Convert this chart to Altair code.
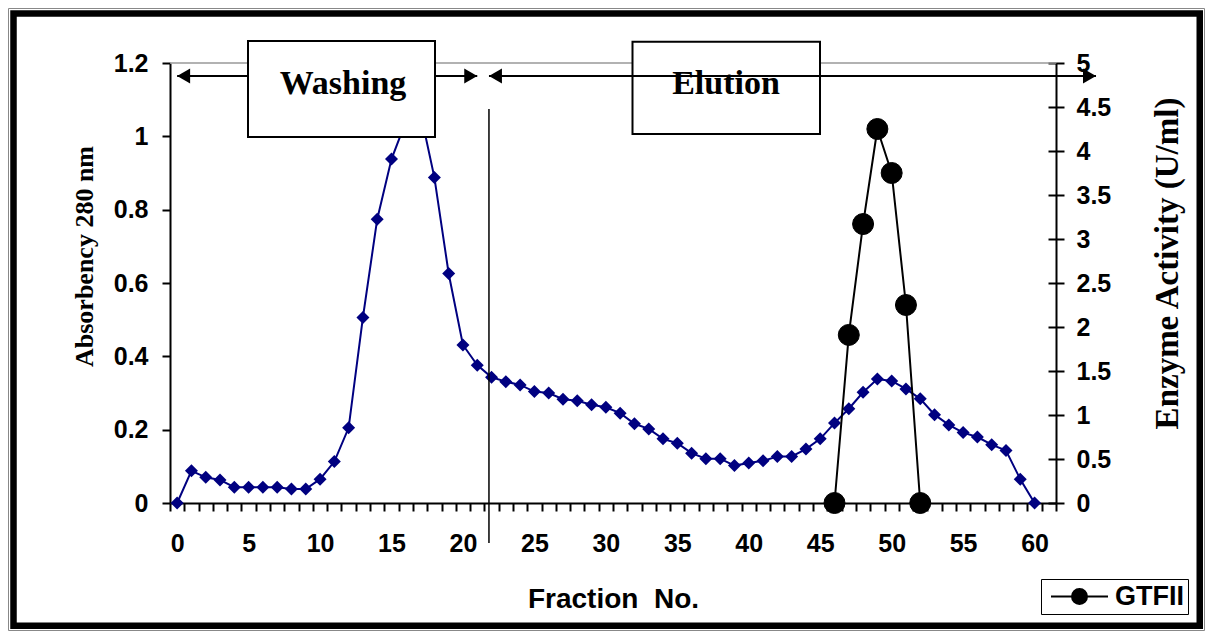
import altair as alt
import pandas as pd

# ---------------- data ----------------
fractions = list(range(61))
absorbance = [0, 0.088, 0.070, 0.063, 0.043, 0.043, 0.043, 0.043, 0.038, 0.038,
              0.065, 0.113, 0.205, 0.506, 0.774, 0.938, 1.04, 1.07, 0.888, 0.626,
              0.431, 0.376, 0.343, 0.331, 0.322, 0.304, 0.300, 0.283, 0.279, 0.268,
              0.261, 0.245, 0.216, 0.202, 0.175, 0.163, 0.136, 0.121, 0.121, 0.102,
              0.109, 0.115, 0.127, 0.127, 0.147, 0.175, 0.218, 0.257, 0.302, 0.338,
              0.333, 0.311, 0.284, 0.241, 0.213, 0.192, 0.180, 0.159, 0.143, 0.065, 0]
enzyme_fractions = [46, 47, 48, 49, 50, 51, 52]
enzyme_activity = [0, 1.91, 3.17, 4.25, 3.75, 2.25, 0]
series_name = "GTFII"
x_tick_labels = list(range(0, 61, 5))
left_ticks = [0, 0.2, 0.4, 0.6, 0.8, 1.0, 1.2]
right_ticks = [0, 0.5, 1, 1.5, 2, 2.5, 3, 3.5, 4, 4.5, 5]

abs_df = pd.DataFrame({"fraction": fractions, "absorbance": absorbance})
enz_df = pd.DataFrame({"fraction": enzyme_fractions, "activity": enzyme_activity,
                       "series": [series_name] * len(enzyme_fractions)})

# ---------------- layout ----------------
W, H = 886, 440
PX = W / 62.0
SANS = "Liberation Sans"
SERIF = "Liberation Serif"
one = alt.Data(values=[{"k": 0}])


def px(v):
    """pixel position of a fraction value inside the plot (for annotations)"""
    return (v + 0.5) * PX


x_scale = alt.Scale(domain=[-0.5, 61.5], nice=False, zero=False)
label_list = "[" + ",".join(str(v) for v in x_tick_labels) + "]"
x_axis = alt.Axis(
    orient="bottom",
    values=[i - 0.5 for i in range(63)],
    labelExpr=f"indexof({label_list}, datum.value + 0.5) >= 0 ? '' + (datum.value + 0.5) : ''",
    labelOffset=PX / 2, labelOverlap=False, labelFlush=False,
    tickSize=8, tickWidth=2, tickColor="black",
    domainColor="black", domainWidth=2, grid=False,
    labelFont=SANS, labelFontWeight="bold", labelFontSize=25, labelColor="black",
    labelBaseline="alphabetic", labelPadding=40,
    title="Fraction \u00a0No.", titleFont=SANS, titleFontWeight="bold", titleFontSize=28,
    titleColor="black", titleX=443, titleY=104, titleBaseline="alphabetic", titleAlign="center",
)
left_axis = alt.Axis(
    orient="left", values=left_ticks, format="~g", grid=False,
    tickSize=8, tickWidth=2, tickColor="black", domainColor="black", domainWidth=2,
    labelFont=SANS, labelFontWeight="bold", labelFontSize=25, labelColor="black", labelPadding=14,
    title="Absorbency 280 nm", titleFont=SERIF, titleFontWeight="bold", titleFontSize=26,
    titleColor="black", titleAngle=270, titleX=-86, titleY=193, titleBaseline="middle", titleAlign="center",
)
right_axis = alt.Axis(
    orient="right", values=right_ticks, format="~g", grid=False,
    tickSize=8, tickWidth=2, tickColor="black", domainColor="black", domainWidth=2,
    labelFont=SANS, labelFontWeight="bold", labelFontSize=25, labelColor="black", labelPadding=12,
    labelAlign="left",
    title="Enzyme Activity (U/ml)", titleFont=SERIF, titleFontWeight="bold", titleFontSize=33,
    titleColor="black", titleAngle=270, titleX=111, titleY=200, titleBaseline="middle", titleAlign="center",
)
inner_axis = alt.Axis(
    orient="right", offset=-8, values=right_ticks, grid=False, labels=False, domain=False,
    tickSize=8, tickWidth=2, tickColor="black", title="",
)
legend = alt.Legend(
    orient="none", legendX=871, legendY=516, title=None,
    symbolType="M-3.8,0H3.8M1,0A1,1,0,1,1,-1,0A1,1,0,1,1,1,0Z",
    symbolSize=225, symbolStrokeWidth=2, symbolOffset=21, labelOffset=22,
    labelFont=SANS, labelFontWeight="bold", labelFontSize=27, labelColor="black",
    strokeColor="black", fillColor="white", padding=4,
)

# ---------------- frame ----------------
frame_thin = alt.Chart(one).mark_rect(filled=False, color="#888888", strokeWidth=1).encode(
    x=alt.value(-161.5), x2=alt.value(1034.5), y=alt.value(-54.5), y2=alt.value(567.5))
frame_thick = alt.Chart(one).mark_rect(filled=False, color="black", strokeWidth=6.5).encode(
    x=alt.value(-156.5), x2=alt.value(1029.75), y=alt.value(-49.5), y2=alt.value(562.75))
top_line = alt.Chart(one).mark_rule(color="#999999", strokeWidth=1.5).encode(
    x=alt.value(0), x2=alt.value(W), y=alt.value(0))

# ---------------- data layers ----------------
abs_layer = alt.Chart(abs_df).mark_line(
    color="#000080", strokeWidth=2,
    point=alt.OverlayMarkDef(shape="diamond", size=169, filled=True, color="#000080", opacity=1),
).encode(
    x=alt.X("fraction:Q", scale=x_scale, axis=x_axis),
    y=alt.Y("absorbance:Q", scale=alt.Scale(domain=[0, 1.2], nice=False), axis=left_axis),
)
enz_line = alt.Chart(enz_df).mark_line(color="black", strokeWidth=2).encode(
    x=alt.X("fraction:Q", scale=x_scale, axis=x_axis),
    y=alt.Y("activity:Q", scale=alt.Scale(domain=[0, 5], nice=False), axis=right_axis),
)
series_scale = alt.Scale(domain=[series_name], range=["black"])
enz_pts = alt.Chart(enz_df).mark_point(filled=True, size=441, opacity=1, strokeWidth=1).encode(
    x=alt.X("fraction:Q", scale=x_scale, axis=x_axis),
    y=alt.Y("activity:Q", scale=alt.Scale(domain=[0, 5], nice=False), axis=inner_axis),
    fill=alt.Fill("series:N", scale=series_scale, legend=legend),
    stroke=alt.Stroke("series:N", scale=series_scale, legend=legend),
)

# ---------------- annotations ----------------
SPLIT = 21.82
split_line = alt.Chart(one).mark_rule(color="black", strokeWidth=1.5).encode(
    x=alt.value(px(SPLIT)), y=alt.value(46), y2=alt.value(480))

ARROW_Y = 13


def arrow_head(shape, xpos, off):
    return alt.Chart(one).mark_point(shape=shape, size=225, filled=True, color="black",
                                     opacity=1).encode(x=alt.value(xpos + off), y=alt.value(ARROW_Y))


wash_line = alt.Chart(one).mark_rule(color="black", strokeWidth=2).encode(
    x=alt.value(px(0)), x2=alt.value(px(21)), y=alt.value(ARROW_Y))
wash_l = arrow_head("triangle-left", px(0), 6.5)
wash_r = arrow_head("triangle-right", px(21), -6.5)

box_wash = alt.Chart(one).mark_rect(fill="white", stroke="black", strokeWidth=2).encode(
    x=alt.value(78), x2=alt.value(265), y=alt.value(-22), y2=alt.value(74))
box_elu = alt.Chart(one).mark_rect(fill="white", stroke="black", strokeWidth=2).encode(
    x=alt.value(462.5), x2=alt.value(650), y=alt.value(-21.3), y2=alt.value(71))

elu_line = alt.Chart(one).mark_rule(color="black", strokeWidth=2).encode(
    x=alt.value(px(SPLIT)), x2=alt.value(px(64.3)), y=alt.value(ARROW_Y))
elu_l = arrow_head("triangle-left", px(SPLIT), 6.5)
elu_r = arrow_head("triangle-right", px(64.3), -6.5)

txt_wash = alt.Chart(one).mark_text(font=SERIF, fontWeight="bold", fontSize=34, color="black",
                                    align="center", baseline="alphabetic").encode(
    x=alt.value(173), y=alt.value(30.5), text=alt.value("Washing"))
txt_elu = alt.Chart(one).mark_text(font=SERIF, fontWeight="bold", fontSize=34, color="black",
                                   align="center", baseline="alphabetic").encode(
    x=alt.value(556), y=alt.value(30.5), text=alt.value("Elution"))

chart = alt.layer(
    frame_thin, frame_thick, top_line,
    abs_layer, enz_line, enz_pts,
    split_line, wash_line, wash_l, wash_r,
    box_wash, box_elu,
    elu_line, elu_l, elu_r,
    txt_wash, txt_elu,
).resolve_scale(y="independent").properties(
    width=W, height=H,
    padding={"left": 162, "top": 55, "right": 149, "bottom": 128},
    autosize=alt.AutoSizeParams(type="none"),
    background="white",
).configure_view(strokeWidth=0)

chart.save("out.html", embed_options={"renderer": "svg", "actions": False})
